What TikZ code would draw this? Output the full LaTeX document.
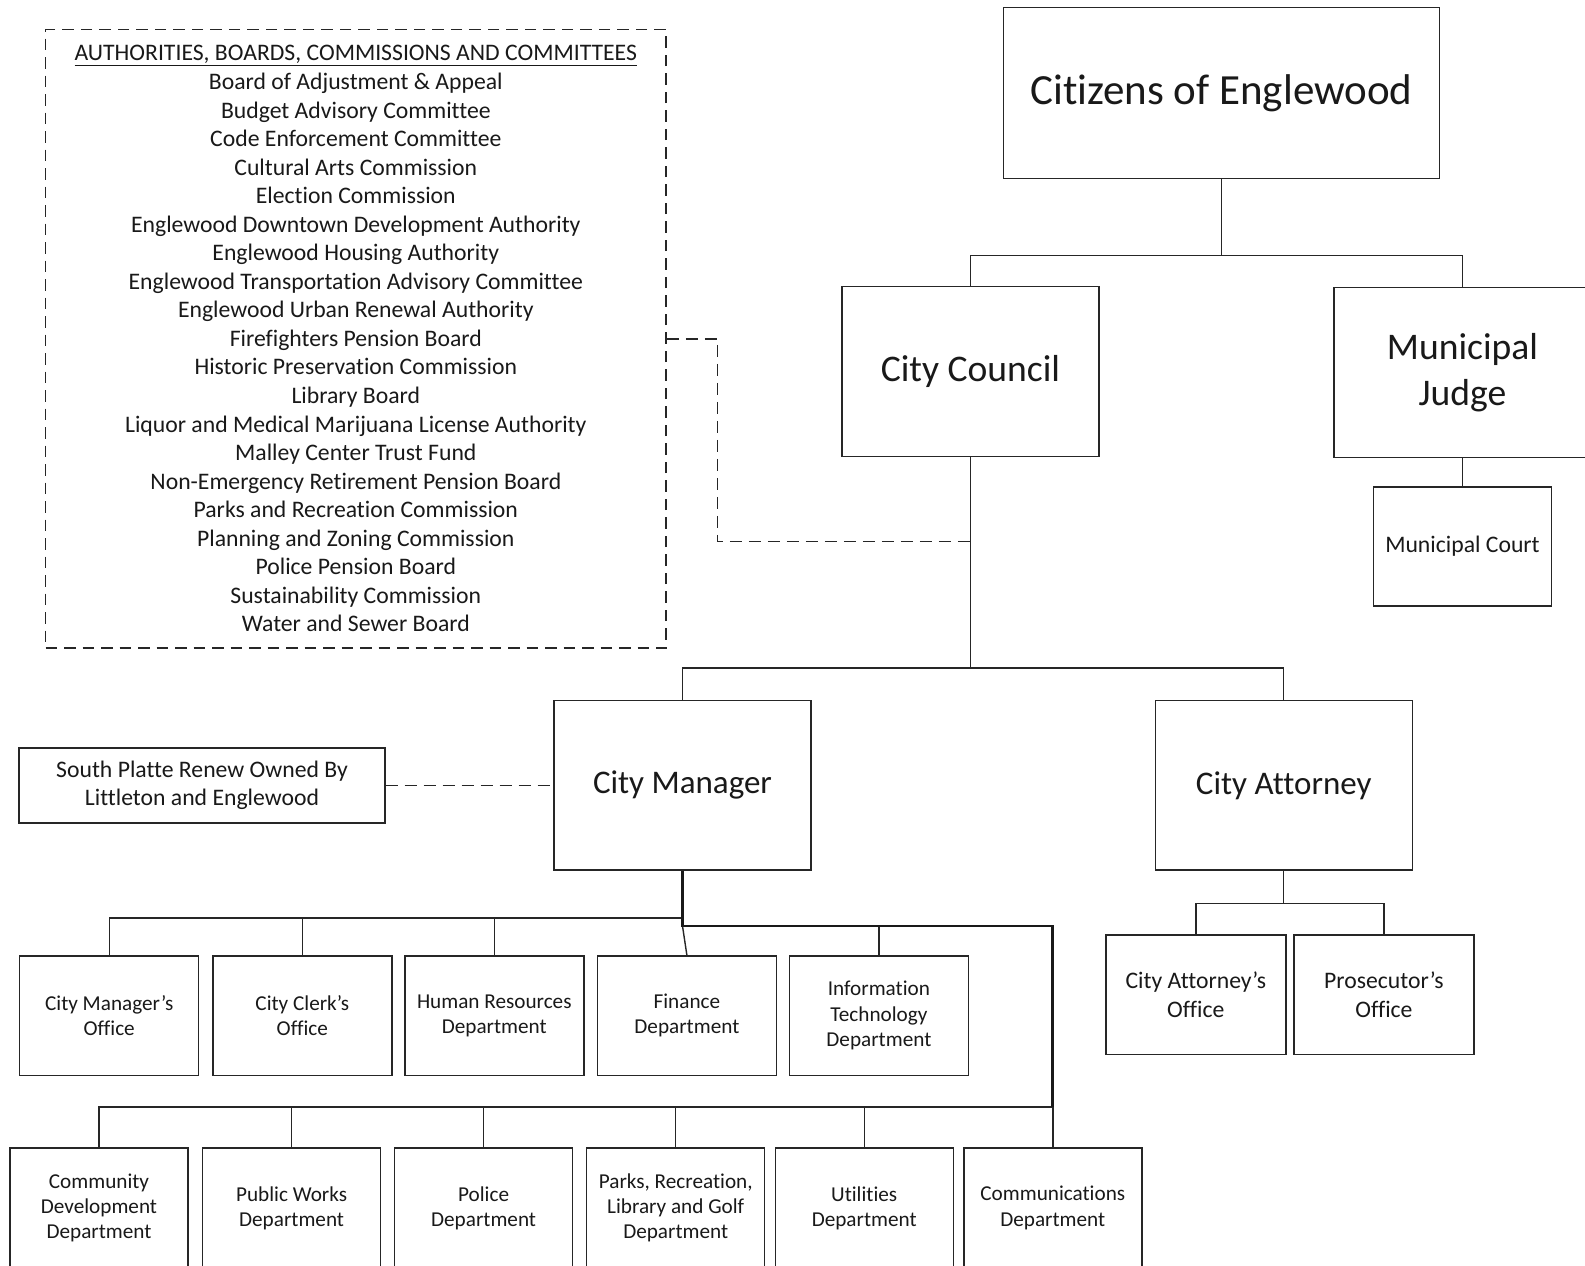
\documentclass[tikz,border=0pt]{standalone}
\usepackage{fontspec}
\setmainfont{Carlito}[Ligatures=NoCommon]
\begin{document}
\begin{tikzpicture}[x=1pt,y=-1pt,
  box/.style={draw=black!85, line width=1.4pt, inner sep=0pt, align=center, text=black!90},
  fbig/.style={font=\fontsize{43}{52}\selectfont},
  fmid/.style={font=\fontsize{37.6}{45.5}\selectfont},
  fman/.style={font=\fontsize{33}{40}\selectfont},
  fbody/.style={font=\fontsize{23.7}{28.4}\selectfont},
  fsmall/.style={font=\fontsize{21.2}{25.3}\selectfont},
  bigbox/.style={box, minimum width=257pt, minimum height=170pt},
  deptbox/.style={box, fsmall, minimum width=179pt, minimum height=119.5pt},
  conn/.style={draw=black!85, line width=1.4pt},
  thickconn/.style={draw=black!90, line width=2.8pt},
  dashline/.style={draw=black!85, line width=1.4pt, dash pattern=on 12pt off 7pt}
]
\useasboundingbox (0,0) rectangle (1585,1266);
\clip (0,0) rectangle (1585,1266);
\fill[white] (0,0) rectangle (1585,1266);

% top level
\node[box, fbig, minimum width=436pt, minimum height=171pt] (citizens) at (1221.5,93) {Citizens of Englewood};
\node[bigbox, fmid] (council) at (970.5,371.2) {City Council};
\node[bigbox, fmid] (judge) at (1462.5,372.5) {Municipal\\Judge};
\node[box, fbody, minimum width=178pt, minimum height=119pt] (court) at (1462.5,546.5) {Municipal Court};

% boards list
\node[box, fbody, dash pattern=on 11.5pt off 7pt, minimum width=620.5pt, minimum height=618.5pt,
      font=\fontsize{23.7}{28.55}\selectfont] (abc) at (355.8,338.8) {%
\underline{AUTHORITIES, BOARDS, COMMISSIONS AND COMMITTEES}\\
Board of Adjustment \& Appeal\\
Budget Advisory Committee\\
Code Enforcement Committee\\
Cultural Arts Commission\\
Election Commission\\
Englewood Downtown Development Authority\\
Englewood Housing Authority\\
Englewood Transportation Advisory Committee\\
Englewood Urban Renewal Authority\\
Firefighters Pension Board\\
Historic Preservation Commission\\
Library Board\\
Liquor and Medical Marijuana License Authority\\
Malley Center Trust Fund\\
Non-Emergency Retirement Pension Board\\
Parks and Recreation Commission\\
Planning and Zoning Commission\\
Police Pension Board\\
Sustainability Commission\\
Water and Sewer Board};

% second level
\node[bigbox, fman, minimum height=169.5pt] (manager) at (682.5,785.3) {City Manager};
\node[bigbox, fman, minimum height=169.5pt] (attorney) at (1283.7,785.3) {City Attorney};
\node[box, fbody, minimum width=366pt, minimum height=75pt] (splatte) at (202,785.3) {South Platte Renew Owned By\\Littleton and Englewood};

% city manager departments row 1
\node[deptbox] (cmo) at (109.2,1015.7) {City Manager's\\Office};
\node[deptbox] (clerk) at (302.3,1015.7) {City Clerk's\\Office};
\node[deptbox] (hr) at (494.3,1015.7) {Human Resources\\Department};
\node[deptbox] (fin) at (686.9,1015.7) {Finance\\Department};
\node[deptbox] (it) at (878.9,1015.7) {Information\\Technology\\Department};

% row 2
\node[deptbox, minimum width=178pt, minimum height=120pt] (cdd) at (99,1208) {Community\\Development\\Department};
\node[deptbox, minimum width=178pt, minimum height=120pt] (pw) at (291.6,1208) {Public Works\\Department};
\node[deptbox, minimum width=178pt, minimum height=120pt] (pol) at (483.6,1208) {Police\\Department};
\node[deptbox, minimum width=178pt, minimum height=120pt] (parks) at (675.7,1208) {Parks, Recreation,\\Library and Golf\\Department};
\node[deptbox, minimum width=178pt, minimum height=120pt] (util) at (864.2,1208) {Utilities\\Department};
\node[deptbox, minimum width=178pt, minimum height=120pt] (comm) at (1052.8,1208) {Communications\\Department};

% attorney offices
\node[box, fbody, minimum width=180pt, minimum height=119.3pt] (cao) at (1195.8,994.7) {City Attorney's\\Office};
\node[box, fbody, minimum width=180pt, minimum height=119.3pt] (pros) at (1383.9,994.7) {Prosecutor's\\Office};

% connectors: top
\coordinate (t1) at (1221.5,255.7);
\draw[conn] (citizens.south) -- (t1);
\draw[conn] (council.north) |- (t1);
\draw[conn] (judge.north) |- (t1);
\draw[conn] (judge.south) -- (court.north);

% council to manager / attorney
\coordinate (t2) at (970.5,668);
\draw[conn] (council.south) -- (t2);
\draw[conn] (manager.north) |- (t2);
\draw[conn] (attorney.north) |- (t2);

% dashed links
\coordinate (d1) at (970.5,541.7);
\draw[dashline] (abc.east) -- ++(51,0) |- (d1);
\draw[dashline] (splatte.east) -- (manager.west);

% manager to departments
\coordinate (m0) at (682.5,918);
\coordinate (m1) at (682.5,926);
\coordinate (m2) at (1052.8,1107);
\draw[conn] (cmo.north) |- (m0);
\draw[conn] (clerk.north) -- (clerk.north |- m0);
\draw[conn] (hr.north) -- (hr.north |- m0);
\draw[conn] (m1) -- (fin.north);
\draw[conn] (it.north) -- (it.north |- m1);
\draw[conn] (cdd.north) |- (m2);
\draw[conn] (pw.north) -- (pw.north |- m2);
\draw[conn] (pol.north) -- (pol.north |- m2);
\draw[conn] (parks.north) -- (parks.north |- m2);
\draw[conn] (util.north) -- (util.north |- m2);
\draw[conn] (comm.north) -- (m2);
\draw[thickconn, line join=miter] (manager.south) -- (m1) -- (m1 -| comm.north) -- (m2);

% attorney to offices
\coordinate (a1) at (1283.7,903.7);
\draw[conn] (attorney.south) -- (a1);
\draw[conn] (cao.north) |- (a1);
\draw[conn] (pros.north) |- (a1);
\end{tikzpicture}
\end{document}
